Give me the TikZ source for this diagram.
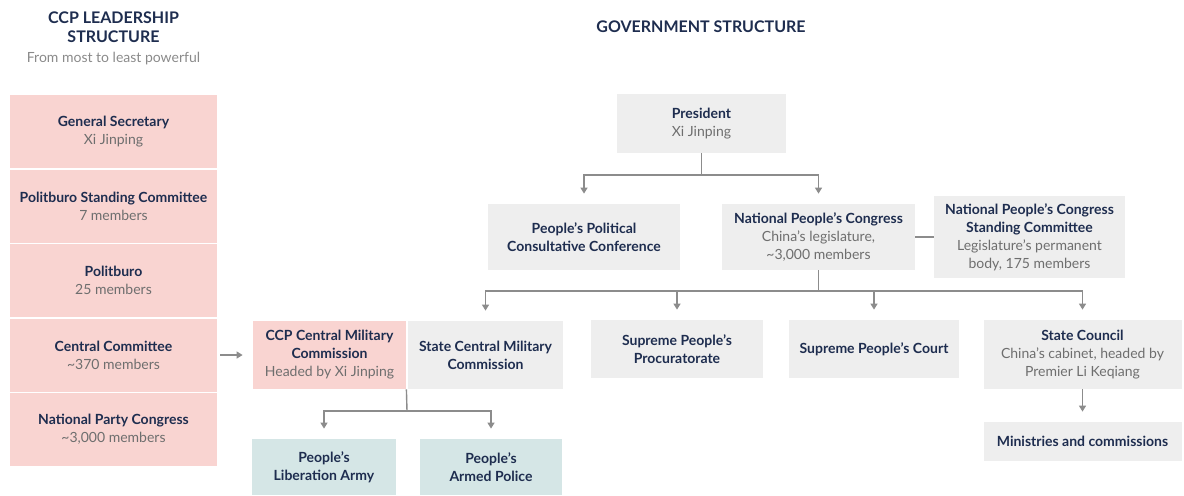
\documentclass[tikz,border=0pt]{standalone}
\usepackage{fontspec}
\setmainfont{Lato}
\usepackage{xcolor}
\usetikzlibrary{arrows.meta}
\definecolor{navy}{HTML}{1E2D4F}
\definecolor{subgray}{HTML}{6E6E6E}
\definecolor{notegray}{HTML}{8A8A8A}
\definecolor{linegray}{HTML}{8C8C8C}
\definecolor{pinkfill}{HTML}{F9D4D1}
\definecolor{grayfill}{HTML}{EEEEEE}
\definecolor{tealfill}{HTML}{D5E6E6}
\newcommand{\subl}[1]{{\mdseries\color{subgray}#1}}

\begin{document}
\begin{tikzpicture}[x=0.5pt,y=-0.5pt,
    box/.style={inner sep=0pt,align=center,text=navy,font=\fontsize{7}{9}\selectfont\bfseries},
    wh/.style 2 args={minimum width=#1*0.5pt,minimum height=#2*0.5pt},
    party/.style={box,fill=pinkfill},
    gov/.style={box,fill=grayfill},
    force/.style={box,fill=tealfill},
    head/.style={box,font=\fontsize{8}{9.5}\selectfont\bfseries},
    link/.style={draw=linegray,line width=0.7pt},
    arr/.style={link,-{Triangle[width=3.5pt,length=3pt]},shorten >=5pt}]
    \useasboundingbox (0,0) rectangle (1184,495);

    \node[head] (ccphead) at (113.5,27) {CCP LEADERSHIP\\STRUCTURE};
    \node[text=notegray,font=\fontsize{7}{8}\selectfont] (ccpsub) at (113.5,59) {From most to least powerful};
    \node[head] (govhead) at (701,27) {GOVERNMENT STRUCTURE};

    \node[party,wh={207}{73}] (gensec) at (113.5,131.5) {General Secretary\\\subl{Xi Jinping}};
    \node[party,wh={207}{73}] (psc) at (113.5,206) {Politburo Standing Committee\\\subl{7 members}};
    \node[party,wh={207}{73}] (pb) at (113.5,280.5) {Politburo\\\subl{25 members}};
    \node[party,wh={207}{73}] (cc) at (113.5,355) {Central Committee\\\subl{\textasciitilde370 members}};
    \node[party,wh={207}{73}] (npcong) at (113.5,429.5) {National Party Congress\\\subl{\textasciitilde3,000 members}};

    \node[gov,wh={169}{59}] (pres) at (701.5,123.5) {President\\\subl{Xi Jinping}};
    \node[gov,wh={192}{66}] (ppcc) at (584,237) {People's Political\\Consultative Conference};
    \node[gov,wh={193}{66}] (npc) at (818.5,237) {National People's Congress\\\subl{China's legislature,}\\\subl{\textasciitilde3,000 members}};
    \node[gov,wh={191}{82}] (npcsc) at (1029.5,237) {National People's Congress\\Standing Committee\\\subl{Legislature's permanent}\\\subl{body, 175 members}};

    \node[party,wh={153}{68}] (ccpcmc) at (329.5,355) {CCP Central Military\\Commission\\\subl{Headed by Xi Jinping}};
    \node[gov,wh={155}{68}] (scmc) at (485.5,355) {State Central Military\\Commission};
    \node[gov,wh={172}{58}] (proc) at (677,349) {Supreme People's\\Procuratorate};
    \node[gov,wh={170}{58}] (court) at (874,349) {Supreme People's Court};
    \node[gov,wh={198}{69}] (council) at (1082.5,354.5) {State Council\\\subl{China's cabinet, headed by}\\\subl{Premier Li Keqiang}};
    \node[gov,wh={198}{39}] (min) at (1082.5,441.5) {Ministries and commissions};

    \node[force,wh={144}{56}] (pla) at (324,467) {People's\\Liberation Army};
    \node[force,wh={142}{56}] (pap) at (491,467) {People's\\Armed Police};

    \coordinate (presj) at (701.5,175);
    \draw[link] (pres.south) -- (presj);
    \draw[arr] (presj) -| (ppcc.north);
    \draw[arr] (presj) -| (npc.north);
    \draw[link] (npc.east) -- (npcsc.west);

    \coordinate (npcj) at (818.5,291);
    \draw[link] (npc.south) -- (npcj);
    \foreach \n in {scmc,proc,court,council}
        \draw[arr] (npcj) -| (\n.north);

    \coordinate (cmcj) at (407,411);
    \draw[link] (ccpcmc.south east) -- (cmcj);
    \draw[arr] (cmcj) -| (pla.north);
    \draw[arr] (cmcj) -| (pap.north);

    \draw[arr] (council.south) -- (min.north);
    \draw[arr,shorten <=1.5pt] (cc.east) -- (ccpcmc.west);
\end{tikzpicture}
\end{document}
